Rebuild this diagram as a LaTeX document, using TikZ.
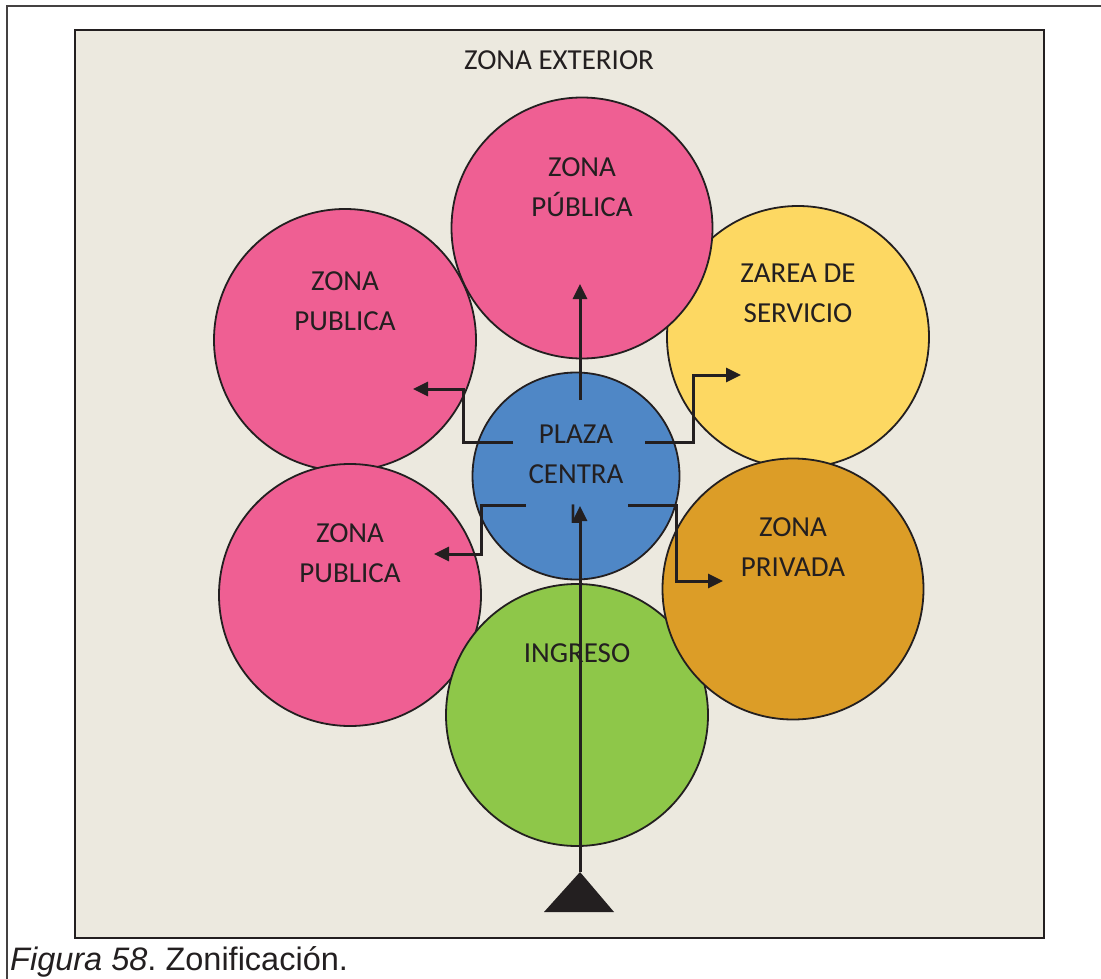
\documentclass[tikz,border=0pt]{standalone}
\usepackage{fontspec}
\setmainfont{Carlito}
\newfontfamily\capfont{Liberation Sans}
\usetikzlibrary{arrows.meta}
\definecolor{bgc}{HTML}{ECE9DF}
\definecolor{pinkc}{HTML}{EF5F93}
\definecolor{yellowc}{HTML}{FDD862}
\definecolor{orangec}{HTML}{DC9D27}
\definecolor{greenc}{HTML}{8EC749}
\definecolor{bluec}{HTML}{4F87C6}
\definecolor{inkc}{HTML}{231F20}
\tikzset{
  zone/.style={circle, draw=inkc, line width=1.8pt, inner sep=0pt, minimum size=#1},
  lbl/.style={text=inkc, font=\fontsize{29}{40}\selectfont, align=center, inner sep=0pt},
  flow/.style={draw=inkc, line width=3pt, -{Triangle[length=15pt,width=14pt]}},
  seg/.style={draw=inkc, line width=3pt}
}
\begin{document}
\begin{tikzpicture}[x=1pt,y=-1pt]
\useasboundingbox (0,0) rectangle (1101,979);
% outer frame
\draw[line width=2pt, draw=inkc!85] (7,979) -- (7,6) -- (1101,6);
% inner area
\draw[fill=bgc, draw=inkc, line width=2pt] (75,30) rectangle (1044,938);
\node[lbl] (ext) at (559,60) {ZONA EXTERIOR};
% circles
\node[zone=262pt, fill=pinkc] (pul) at (345,340) {};
\node[zone=262pt, fill=yellowc] (ser) at (798,337) {};
\node[zone=261pt, fill=pinkc] (put) at (582,228) {};
\node[zone=262pt, fill=pinkc] (pll) at (350,595) {};
\node[zone=262pt, fill=greenc] (ing) at (577,715) {};
\node[zone=261pt, fill=orangec] (pri) at (793,589) {};
\node[zone=207pt, fill=bluec] (pla) at (576,476) {};
% labels
\node[lbl] (tput) at (582,187) {ZONA\\PÚBLICA};
\node[lbl] (tpul) at (345,301) {ZONA\\PUBLICA};
\node[lbl] (tser) at (798,293) {ZAREA DE\\SERVICIO};
\node[lbl] (tpll) at (350,553) {ZONA\\PUBLICA};
\node[lbl] (tpri) at (793,547) {ZONA\\PRIVADA};
\node[lbl] (ting) at (577,653) {INGRESO};
\node[lbl] (tpla) at (576,474) {PLAZA\\CENTRA\\L};
% entrance triangle
\fill[inkc] (544,912) -- (580,872) -- (614,912) -- cycle;
\coordinate (apex) at (580,872);
% connector points
\coordinate (cin) at (580,506);
\coordinate (ctop0) at (580,400);
\coordinate (ctop1) at (580,284);
\coordinate (ul0) at (513,442);
\coordinate (ul1) at (413,389);
\coordinate (ur0) at (645,442);
\coordinate (ur1) at (741,375);
\coordinate (ll0) at (526,505);
\coordinate (ll1) at (434,554);
\coordinate (lr0) at (628,505);
\coordinate (lr1) at (723,581);
% connectors
\draw[flow] (apex) -- (cin);
\draw[flow] (ctop0) -- (ctop1);
\draw[flow] (ul0) -- (463,442) |- (ul1);
\draw[flow] (ur0) -- (693,442) |- (ur1);
\draw[flow] (ll0) -- (481,505) |- (ll1);
\draw[flow] (lr0) -- (676,505) |- (lr1);
% caption
\node[anchor=base west, inner sep=0pt, text=inkc, font=\capfont\fontsize{32.5}{38}\selectfont] (cap) at (10,970) {\textit{Figura 58}.\ Zonificación.};
\end{tikzpicture}
\end{document}
